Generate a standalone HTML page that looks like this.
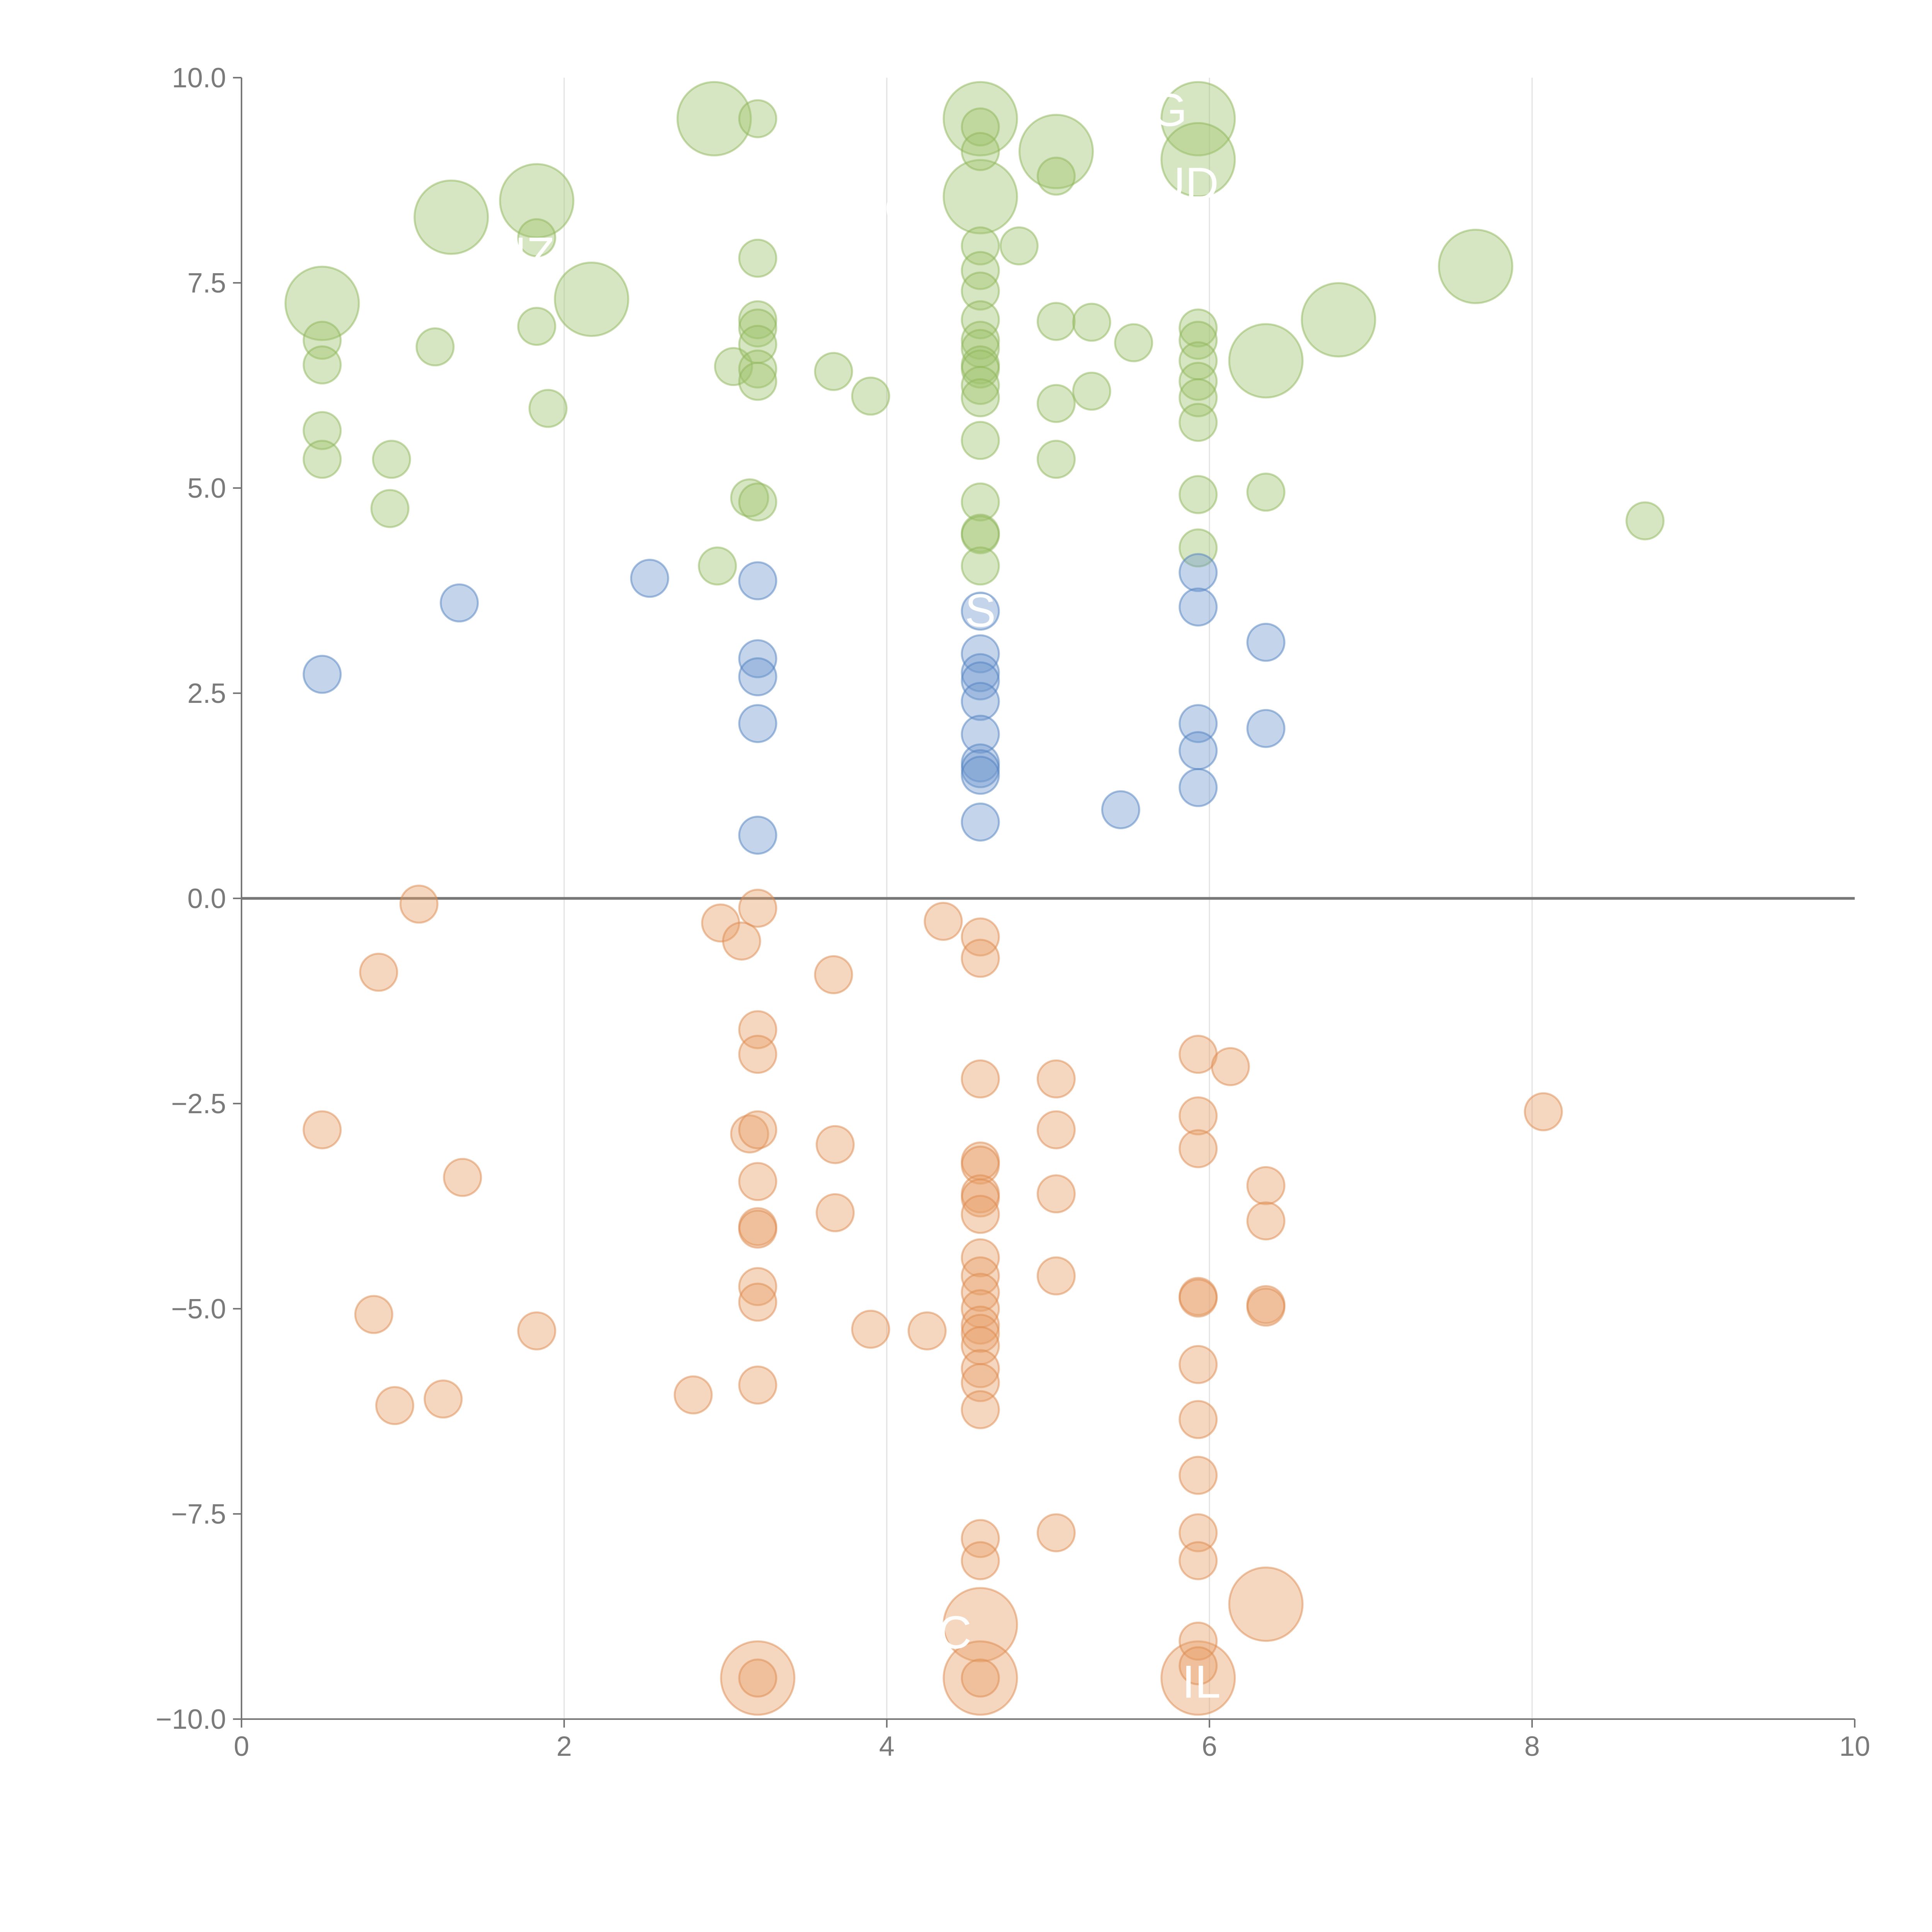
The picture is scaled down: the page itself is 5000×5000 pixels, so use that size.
<!DOCTYPE html>
<html><head><meta charset="utf-8">
<style>html,body{margin:0;padding:0;background:#fff}svg{display:block}text{font-family:"Liberation Sans",sans-serif}</style>
</head><body>
<svg id="chart" width="5000" height="5000" viewBox="0 0 5000 5000" xmlns="http://www.w3.org/2000/svg">
<g id="grid"></g>
<g id="axes"></g>
<g id="marks"></g>
<g id="labels"></g>
</svg>
<script>
const xTicks=[0,2,4,6,8,10];
const yTicks=[10,7.5,5,2.5,0,-2.5,-5,-7.5,-10];
const yTickLabels=["10.0","7.5","5.0","2.5","0.0","\u22122.5","\u22125.0","\u22127.5","\u221210.0"];
const greenX=[0.5,0.5,0.5,0.5,0.93,0.92,1.2,1.83,1.83,1.9,2.95,3.05,3.15,3.2,3.2,3.2,3.2,3.2,3.2,3.2,3.2,3.67,3.9,4.58,4.58,4.58,4.58,4.58,4.58,4.58,4.58,4.58,4.58,4.58,4.58,4.58,4.58,4.58,4.58,4.58,4.82,5.05,5.05,5.05,5.05,5.27,5.27,5.53,5.93,5.93,5.93,5.93,5.93,5.93,5.93,5.93,6.35,8.7];
const greenY=[6.8,6.5,5.7,5.35,5.35,4.75,6.72,8.05,6.97,5.97,4.05,6.48,4.88,9.5,7.8,7.05,6.95,6.75,6.45,6.3,4.83,6.42,6.12,9.4,9.1,7.95,7.65,7.4,7.05,6.8,6.7,6.5,6.45,6.25,6.1,5.58,4.83,4.45,4.43,4.05,7.95,8.8,7.03,6.03,5.35,7.02,6.18,6.77,6.95,6.8,6.55,6.3,6.1,5.8,4.92,4.27,4.95,4.6];
const greenBigX=[0.5,1.3,1.83,2.17,2.93,4.58,4.58,5.05,5.93,5.93,6.35,6.8,7.65];
const greenBigY=[7.25,8.3,8.5,7.3,9.5,9.5,8.55,9.1,9.5,9.0,6.55,7.05,7.7];
const blueX=[0.5,1.35,2.53,3.2,3.2,3.2,3.2,3.2,4.58,4.58,4.58,4.58,4.58,4.58,4.58,4.58,4.58,4.58,5.45,5.93,5.93,5.93,5.93,5.93,6.35,6.35];
const blueY=[2.73,3.6,3.9,3.87,2.92,2.7,2.13,0.77,3.5,2.98,2.75,2.65,2.4,2.0,1.65,1.58,1.5,0.93,1.08,3.97,3.55,2.13,1.8,1.35,3.12,2.07];
const orangeX=[1.1,0.85,0.5,1.37,0.82,0.95,1.25,1.83,2.8,2.97,3.1,3.2,3.67,3.15,3.2,3.2,3.2,3.2,3.2,3.2,3.2,3.2,3.2,3.68,3.68,3.9,4.25,4.35,4.58,4.58,4.58,4.58,4.58,4.58,4.58,4.58,4.58,4.58,4.58,4.58,4.58,4.58,4.58,4.58,4.58,4.58,4.58,4.58,5.05,5.05,5.05,5.05,5.05,5.93,5.93,5.93,5.93,5.93,5.93,5.93,5.93,5.93,5.93,5.93,5.93,6.13,6.35,6.35,6.35,6.35,8.07,3.2,4.58];
const orangeY=[-0.07,-0.9,-2.82,-3.4,-5.07,-6.18,-6.1,-5.27,-6.05,-0.3,-0.52,-0.12,-0.93,-2.87,-2.82,-1.6,-1.9,-3.45,-4.0,-4.03,-4.73,-4.92,-5.93,-3.0,-3.83,-5.25,-5.27,-0.28,-0.47,-0.73,-2.2,-3.2,-3.25,-3.6,-3.65,-3.85,-4.38,-4.6,-4.8,-5.0,-5.2,-5.3,-5.45,-5.73,-5.9,-6.23,-7.8,-8.07,-2.2,-2.82,-3.6,-4.6,-7.73,-1.9,-2.65,-3.05,-4.85,-4.87,-5.68,-6.35,-7.03,-7.73,-8.07,-9.05,-9.35,-2.05,-3.5,-3.93,-4.95,-4.98,-2.6,-9.5,-9.5];
const orangeBigX=[3.2,4.58,4.58,5.93,6.35];
const orangeBigY=[-9.5,-8.85,-9.5,-9.5,-8.6];
const labelText=["G","UD","NZ","EO","S","JC","IL"];
const labelX=[5.75,5.85,1.75,4.0,4.58,4.35,5.95];
const labelY=[9.6,8.7,7.85,8.4,3.5,-8.95,-9.55];

const X0=625,X1=4800,Y0=4449,Y1=201;
const sx=v=>X0+(v-0)/10*(X1-X0);
const sy=v=>Y0-(v+10)/20*(Y0-Y1);
const NS="http://www.w3.org/2000/svg";
function mk(tag,parent,attrs){const e=document.createElementNS(NS,tag);for(const k in attrs)e.setAttribute(k,attrs[k]);parent.appendChild(e);return e;}
const grid=document.getElementById('grid'),axes=document.getElementById('axes'),marks=document.getElementById('marks'),labels=document.getElementById('labels');

xTicks.forEach(t=>{
  if(t>0&&t<10){const g=mk('line',grid,{x1:sx(t),x2:sx(t),y1:Y1,y2:Y0,stroke:'#e2e2e2','stroke-width':3});
  
  }
  const tk=mk('line',axes,{x1:sx(t),x2:sx(t),y1:Y0,y2:Y0+22,stroke:'#777','stroke-width':4});
  
  
  const tx=mk('text',axes,{x:sx(t),y:Y0+95,'font-size':72,fill:'#7a7a7a','text-anchor':'middle'});
  
  
  tx.textContent=String(t);
});
yTicks.forEach((t,i)=>{
  const tk=mk('line',axes,{x1:X0-22,x2:X0,y1:sy(t),y2:sy(t),stroke:'#777','stroke-width':4});
  
  
  const tx=mk('text',axes,{x:X0-40,y:sy(t)+25,'font-size':72,fill:'#7a7a7a','text-anchor':'end'});
  
  
  tx.textContent=yTickLabels[i];
});
const ya=mk('line',axes,{x1:X0,x2:X0,y1:Y1,y2:Y0,stroke:'#777','stroke-width':4});


const xa=mk('line',axes,{x1:X0,x2:X1,y1:Y0,y2:Y0,stroke:'#777','stroke-width':4});


const zl=mk('line',axes,{x1:X0,x2:X1,y1:sy(0),y2:sy(0),stroke:'#777','stroke-width':7});



function draw(xs,ys,r,fill,stroke,name){
  xs.forEach((x,i)=>{
    const c=mk('circle',marks,{cx:sx(x),cy:sy(ys[i]),r:r,fill:fill,'fill-opacity':0.42,stroke:stroke,'stroke-opacity':0.5,'stroke-width':5});
    
    
  });
}
draw(greenBigX,greenBigY,95,'#9fc46e','#8db55a','green-bubble-large');
draw(greenX,greenY,48,'#9fc46e','#8db55a','green-bubble');
draw(blueX,blueY,48,'#6f98d0','#4f7fc0','blue-bubble');
draw(orangeBigX,orangeBigY,95,'#e8a06a','#de8a4e','orange-bubble-large');
draw(orangeX,orangeY,48,'#e8a06a','#de8a4e','orange-bubble');

labelText.forEach((t,i)=>{
  const tx=mk('text',labels,{x:sx(labelX[i]),y:sy(labelY[i])+40,'font-size':120,fill:'#fff','text-anchor':'middle'});
  
  
  tx.textContent=t;
});
</script>
</body></html>
